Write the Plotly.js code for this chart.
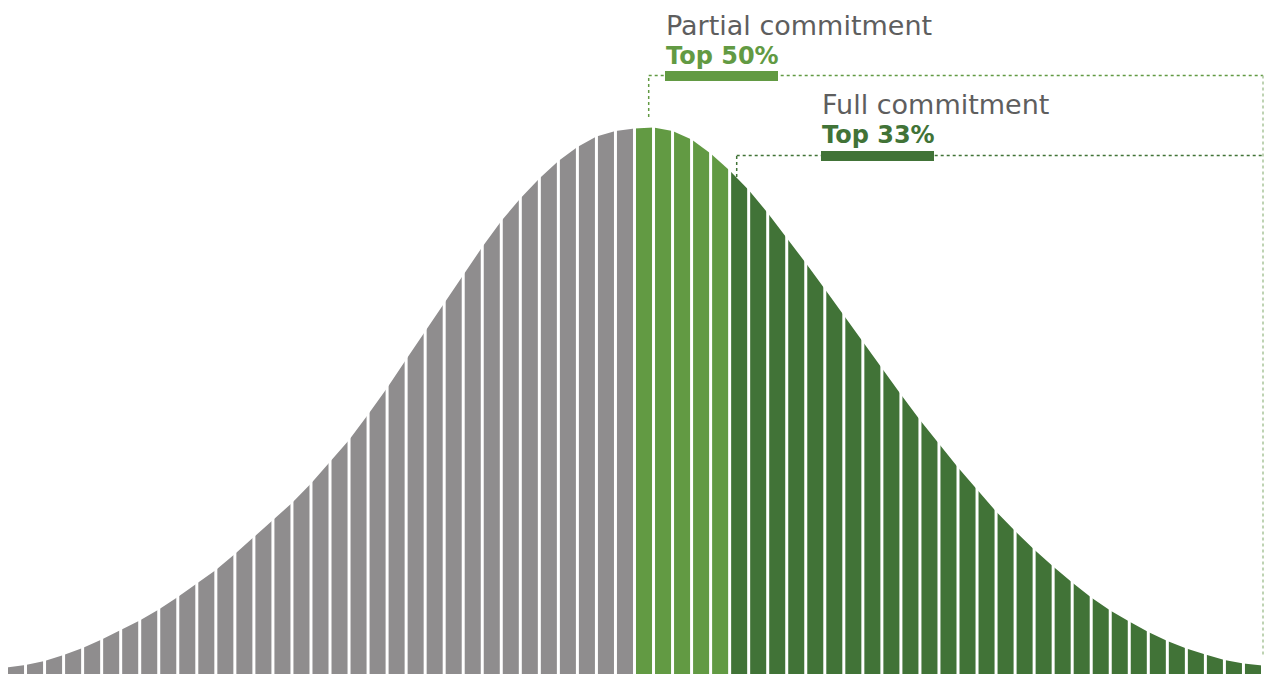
<!DOCTYPE html>
<html>
<head>
<meta charset="utf-8">
<script src="https://cdn.plot.ly/plotly-3.0.1.min.js"></script>
<style>
  html, body { margin: 0; padding: 0; background: #ffffff; }
  #chart { width: 1264px; height: 675px; }
</style>
</head>
<body>
<div id="chart"></div>
<script>
// Height of the bell curve at each bar boundary (67 boundaries for 66 bars)
const curveHeights = [
  6.5, 9, 13, 19, 26, 34.5, 44, 53.5, 64.5, 77,
  90.5, 104, 120, 137, 153, 171, 190.5, 212, 234, 259.5,
  286, 314.5, 342.5, 371, 399, 427, 453, 475.5, 495.5, 513,
  527, 537.5, 543, 545.5, 546.5, 543, 534.5, 520.5, 503.5, 484,
  461, 436.5, 411, 385, 358.5, 332, 305.5, 279.5, 254, 230,
  206.5, 184.5, 162.5, 143, 124.5, 107.5, 91.5, 76.5, 63.5, 52.5,
  42, 33, 25.5, 19.5, 14, 10.5, 8.5
];

// Segments of the distribution (bar index ranges)
const segmentNames = ["Rest", "Top 50%", "Top 33%"];
const segmentStart = [0, 33, 38];
const segmentEnd = [33, 38, 66];
const segmentColors = ["#8f8d8e", "#629a43", "#417337"];

// Annotation texts
const labelTitles = ["Partial commitment", "Full commitment"];
const labelValues = ["Top 50%", "Top 33%"];

const traces = [];
for (let s = 0; s < segmentNames.length; s++) {
  const xs = [], ys = [];
  for (let k = segmentStart[s]; k <= segmentEnd[s]; k++) {
    xs.push(k);
    ys.push(curveHeights[k]);
  }
  traces.push({
    type: "scatter", mode: "lines", name: segmentNames[s],
    x: xs, y: ys, fill: "tozeroy",
    fillcolor: segmentColors[s],
    line: { width: 0, color: segmentColors[s] },
    hoverinfo: "skip", showlegend: false
  });
}
// white separators between bars
const sx = [], sy = [];
for (let k = 0; k < curveHeights.length; k++) {
  sx.push(k, k, null);
  sy.push(-2, curveHeights[k] + 4, null);
}
traces.push({
  type: "scatter", mode: "lines", x: sx, y: sy,
  line: { color: "#ffffff", width: 3 }, hoverinfo: "skip", showlegend: false
});

const W = 1264, H = 675;
const pxPerBar = 19.03;
const x0 = -6.5 / pxPerBar;
const xRange = [x0, x0 + W / pxPerBar];
const yRange = [-1, 674];
function dx(px) { return x0 + px / pxPerBar; }
function dy(py) { return 674 - py; }

const lightG = segmentColors[1], darkG = segmentColors[2];
const shapes = [
  // partial leader
  { type: "line", xref: "x", yref: "y", x0: dx(648.7), x1: dx(648.7), y0: dy(117), y1: dy(75.5), line: { color: lightG, width: 1.5, dash: "dot" } },
  { type: "line", xref: "x", yref: "y", x0: dx(648.7), x1: dx(1263), y0: dy(75.5), y1: dy(75.5), line: { color: lightG, width: 1.5, dash: "dot" } },
  { type: "line", xref: "x", yref: "y", x0: dx(1263), x1: dx(1263), y0: dy(75.5), y1: dy(657), line: { color: "#a9c59b", width: 1.5, dash: "dot" } },
  // full leader
  { type: "line", xref: "x", yref: "y", x0: dx(736.7), x1: dx(736.7), y0: dy(177), y1: dy(155.5), line: { color: darkG, width: 1.5, dash: "dot" } },
  { type: "line", xref: "x", yref: "y", x0: dx(736.7), x1: dx(1263), y0: dy(155.5), y1: dy(155.5), line: { color: darkG, width: 1.5, dash: "dot" } },
  // underline bars
  { type: "rect", xref: "x", yref: "y", x0: dx(665), x1: dx(778), y0: dy(81), y1: dy(71), fillcolor: lightG, line: { width: 0 } },
  { type: "rect", xref: "x", yref: "y", x0: dx(821), x1: dx(934), y0: dy(161), y1: dy(151), fillcolor: darkG, line: { width: 0 } }
];

const fontR = "DejaVu Sans, sans-serif";
const annotations = [
  { text: labelTitles[0], xref: "x", yref: "y", x: dx(664), y: dy(25), xanchor: "left", yanchor: "middle", showarrow: false, font: { family: fontR, size: 27, color: "#5e5e5e" } },
  { text: "<b>" + labelValues[0] + "</b>", xref: "x", yref: "y", x: dx(664), y: dy(56), xanchor: "left", yanchor: "middle", showarrow: false, font: { family: fontR, size: 24, color: lightG } },
  { text: labelTitles[1], xref: "x", yref: "y", x: dx(820), y: dy(104), xanchor: "left", yanchor: "middle", showarrow: false, font: { family: fontR, size: 27, color: "#5e5e5e" } },
  { text: "<b>" + labelValues[1] + "</b>", xref: "x", yref: "y", x: dx(820), y: dy(135), xanchor: "left", yanchor: "middle", showarrow: false, font: { family: fontR, size: 24, color: darkG } }
];

const layout = {
  width: W, height: H,
  margin: { l: 0, r: 0, t: 0, b: 0, pad: 0 },
  paper_bgcolor: "#ffffff", plot_bgcolor: "#ffffff",
  xaxis: { range: xRange, visible: false, fixedrange: true },
  yaxis: { range: yRange, visible: false, fixedrange: true },
  showlegend: false, hovermode: false,
  shapes: shapes, annotations: annotations
};

Plotly.newPlot("chart", traces, layout, { displayModeBar: false, staticPlot: true });
</script>
</body>
</html>
